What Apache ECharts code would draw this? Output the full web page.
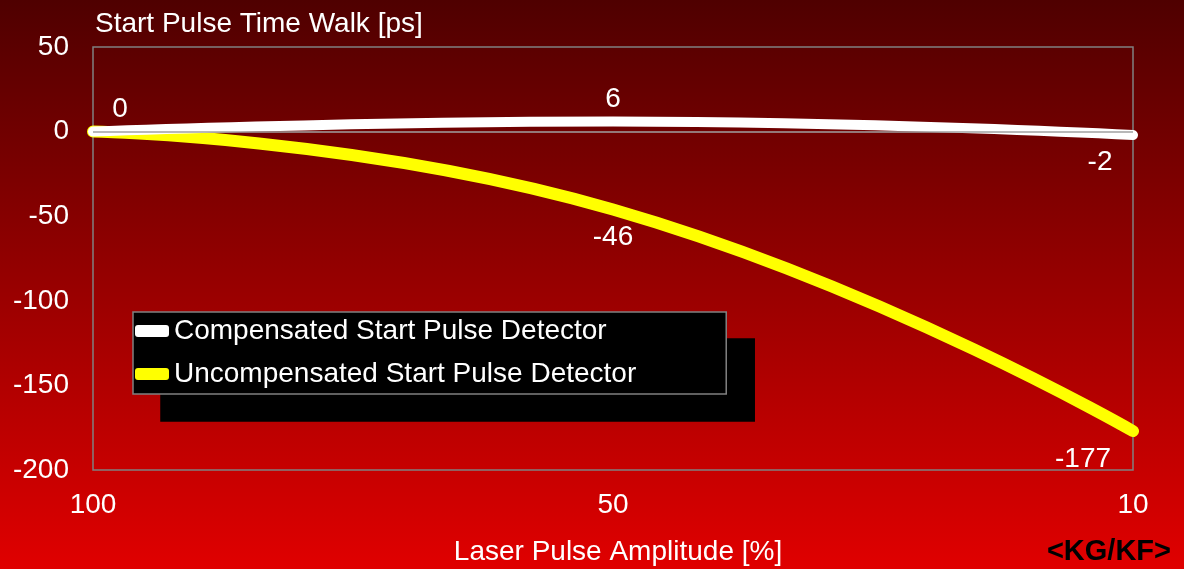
<!DOCTYPE html>
<html>
<head>
<meta charset="utf-8">
<script src="https://cdn.jsdelivr.net/npm/echarts@6/dist/echarts.min.js"></script>
<style>
html,body{margin:0;padding:0;}
#main{width:1184px;height:569px;}
</style>
</head>
<body>
<div id="main"></div>
<script>
var categories = ['100', '50', '10'];
var compensated = [0, 6, -2];
var uncompensated = [0, -46, -177];
var seriesNames = ['Compensated Start Pulse Detector', 'Uncompensated Start Pulse Detector'];
var yTicks = {min: -200, max: 50, interval: 50};

var FONT = '"Liberation Sans", Arial, sans-serif';
var FS = 28;
var chart = echarts.init(document.getElementById('main'));

var compLabels = [
  {position: 'top', offset: [27, 3]},
  {position: 'top', offset: [0, 3]},
  {position: 'bottom', offset: [-33, 2]}
];
var uncompLabels = [
  {show: false},
  {position: 'bottom', offset: [0, 3]},
  {position: 'bottom', offset: [-50, 3]}
];

function buildData(values, labels) {
  return values.map(function (v, i) {
    return {value: v, label: labels[i]};
  });
}

chart.setOption({
  backgroundColor: {
    type: 'linear', x: 0, y: 0, x2: 0, y2: 1,
    colorStops: [{offset: 0, color: '#4f0000'}, {offset: 1, color: '#e00000'}]
  },
  animation: false,
  textStyle: {fontFamily: FONT},
  title: [
    {text: 'Start Pulse Time Walk [ps]', left: 90, top: 5,
     textStyle: {color: '#ffffff', fontSize: FS, fontWeight: 'normal', fontFamily: FONT}},
    {text: 'Laser Pulse Amplitude [%]', left: 613, top: 533, textAlign: 'center',
     textStyle: {color: '#ffffff', fontSize: FS, fontWeight: 'normal', fontFamily: FONT}},
    {text: '<KG/KF>', right: 8, top: 532,
     textStyle: {color: '#000000', fontSize: 29, fontWeight: 'bold', fontFamily: FONT}}
  ],
  grid: {left: 93, right: 51, top: 47, bottom: 99, show: true,
         borderColor: '#808080', borderWidth: 1.5, backgroundColor: 'transparent'},
  legend: {
    orient: 'vertical', left: 133, top: 312,
    data: seriesNames,
    backgroundColor: '#000000', borderColor: '#808080', borderWidth: 1.5,
    shadowColor: '#000000', shadowBlur: 0, shadowOffsetX: 28, shadowOffsetY: 27,
    padding: [4, 90, 5, 2], itemGap: 13,
    itemWidth: 34, itemHeight: 12, icon: 'roundRect',
    textStyle: {color: '#ffffff', fontSize: FS, fontFamily: FONT, lineHeight: 30}
  },
  xAxis: {
    type: 'category', data: categories, boundaryGap: false,
    axisLine: {show: false, onZero: false}, axisTick: {show: false},
    axisLabel: {color: '#ffffff', fontSize: FS, margin: 21, fontFamily: FONT},
    splitLine: {show: false}
  },
  yAxis: {
    type: 'value', min: yTicks.min, max: yTicks.max, interval: yTicks.interval,
    axisLine: {show: false}, axisTick: {show: false}, splitLine: {show: false},
    axisLabel: {color: '#ffffff', fontSize: FS, margin: 24, fontFamily: FONT,
                padding: [4, 0, 0, 0]}
  },
  series: [
    {
      name: seriesNames[1], type: 'line', smooth: 0.5, z: 2,
      data: buildData(uncompensated, uncompLabels),
      symbol: 'circle', symbolSize: 0, showSymbol: true,
      lineStyle: {color: '#ffff00', width: 12, cap: 'round'},
      itemStyle: {color: '#ffff00'},
      label: {show: true, distance: 11, color: '#ffffff', fontSize: FS, fontFamily: FONT},
      markLine: {
        silent: true, symbol: 'none', label: {show: false},
        lineStyle: {color: '#a0a0a0', type: 'solid', width: 1.5},
        data: [{yAxis: 0}]
      }
    },
    {
      name: seriesNames[0], type: 'line', smooth: 0.5, z: 3,
      data: buildData(compensated, compLabels),
      symbol: 'circle', symbolSize: 0, showSymbol: true,
      lineStyle: {color: '#ffffff', width: 10, cap: 'round'},
      itemStyle: {color: '#ffffff'},
      label: {show: true, distance: 11, color: '#ffffff', fontSize: FS, fontFamily: FONT}
    }
  ]
});
</script>
</body>
</html>
